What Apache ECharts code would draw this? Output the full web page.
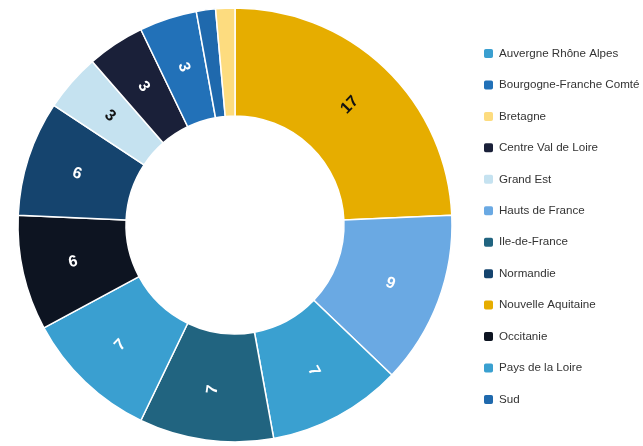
<!DOCTYPE html>
<html>
<head>
<meta charset="utf-8">
<script src="https://cdn.jsdelivr.net/npm/echarts@6/dist/echarts.min.js"></script>
<style>
  html, body { margin: 0; padding: 0; background: #fff; }
  #chart { width: 643px; height: 446px; }
</style>
</head>
<body>
<div id="chart"></div>
<script>
// legend order (alphabetical)
var regions = ['Auvergne Rhône Alpes', 'Bourgogne-Franche Comté', 'Bretagne', 'Centre Val de Loire',
  'Grand Est', 'Hauts de France', 'Ile-de-France', 'Normandie', 'Nouvelle Aquitaine',
  'Occitanie', 'Pays de la Loire', 'Sud'];
var counts = [7, 3, 1, 3, 3, 9, 7, 6, 17, 6, 7, 1];
var colors = ['#3a9fd0', '#2271b8', '#fddc7f', '#1a2039', '#c5e2f0', '#6aa9e3',
  '#216480', '#15446e', '#e6ad00', '#0d1421', '#3aa0d0', '#1f69ad'];
// slices with dark text
var darkText = ['Nouvelle Aquitaine', 'Grand Est', 'Bretagne'];

// slices go clockwise from the top: biggest first, ties reverse alphabetical
var order = regions.map(function (n, i) { return i; });
order.sort(function (a, b) {
  if (counts[b] !== counts[a]) return counts[b] - counts[a];
  return regions[b] < regions[a] ? -1 : 1;
});

var pieData = order.map(function (i) {
  return {
    name: regions[i],
    value: counts[i],
    itemStyle: { color: colors[i] },
    label: {
      show: counts[i] > 1,
      color: darkText.indexOf(regions[i]) >= 0 ? '#111' : '#fff'
    }
  };
});

var chart = echarts.init(document.getElementById('chart'));
chart.setOption({
  animation: false,
  legend: {
    orient: 'vertical',
    left: 482,
    top: 47,
    padding: 0,
    itemWidth: 11,
    itemHeight: 11,
    itemGap: 18.45,
    data: regions,
    textStyle: { fontFamily: 'Arial, Liberation Sans', fontSize: 11.6, color: '#333' }
  },
  series: [{
    type: 'pie',
    center: [235, 225],
    radius: [109, 217],
    startAngle: 90,
    clockwise: true,
    avoidLabelOverlap: false,
    itemStyle: { borderColor: '#fff', borderWidth: 1.5 },
    label: {
      position: 'inside',
      rotate: 'radial',
      formatter: '{c}',
      fontFamily: 'Arial, Liberation Sans',
      fontSize: 16,
      fontWeight: 'bold'
    },
    labelLine: { show: false },
    emphasis: { disabled: true },
    data: pieData
  }]
});
</script>
</body>
</html>
